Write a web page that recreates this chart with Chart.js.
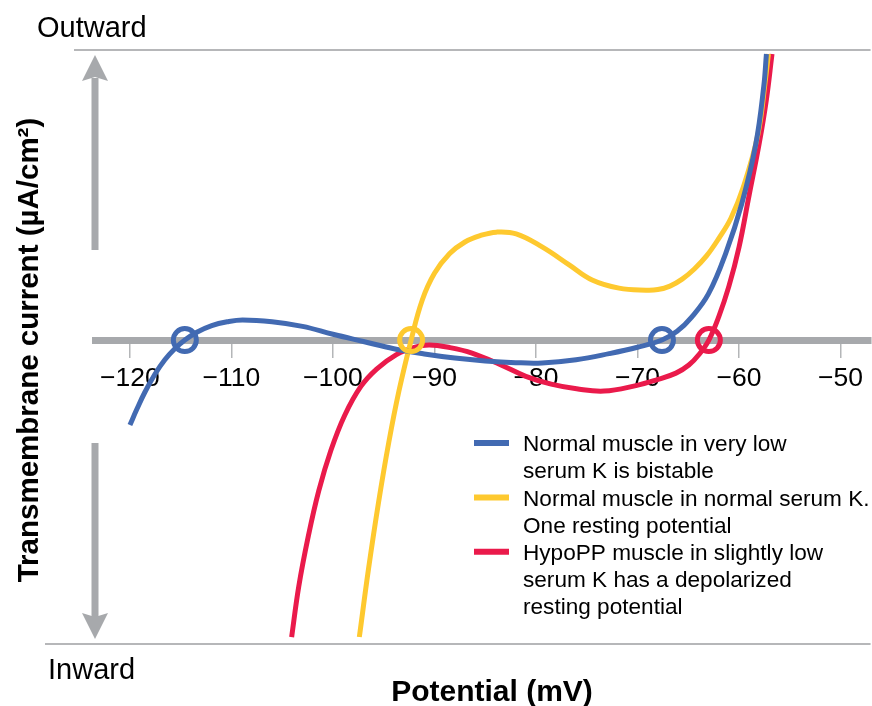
<!DOCTYPE html>
<html>
<head>
<meta charset="utf-8">
<script src="https://cdn.jsdelivr.net/npm/chart.js@4/dist/chart.umd.min.js"></script>
<style>
  html, body { margin: 0; padding: 0; background: #fff; }
  #wrap { width: 872px; height: 706px; }
</style>
</head>
<body>
<div id="wrap"><canvas id="chart" width="872" height="706"></canvas></div>
<script>
// potential (mV) on x, transmembrane current on y (arbitrary units)
const xTicks = [-120, -110, -100, -90, -80, -70, -60, -50];

const blueV = [-120, -119.31, -118.53, -117.54, -116.56, -115.58, -114.59, -113.41, -111.94, -110.4, -108.9, -106, -103, -100, -97, -94, -91, -88, -85, -82, -79.4, -76.05, -72.8, -70, -67.59, -66.1, -64.64, -63.0, -61.3, -59.73, -58.35, -57.56, -57.3];
const blueI = [-2.93, -2.38, -1.8, -1.18, -0.68, -0.3, 0, 0.27, 0.5, 0.63, 0.69, 0.63, 0.47, 0.2, -0.05, -0.3, -0.48, -0.62, -0.72, -0.78, -0.79, -0.68, -0.47, -0.25, 0, 0.3, 0.8, 1.6, 3.0, 4.7, 6.75, 8.75, 9.86];

const yellowV = [-97.4, -96.5, -95.5, -94.5, -93.5, -92.3, -91.2, -90.0, -88.5, -87.0, -85.5, -83.9, -81.95, -79.4, -76.73, -74.47, -71.82, -69.16, -68.0, -66.8, -65.6, -64.4, -63.2, -62.0, -60.8, -59.6, -58.15, -57.4, -57.1];
const yellowI = [-10.24, -7.9, -5.58, -3.53, -1.76, 0, 1.38, 2.3, 2.98, 3.38, 3.6, 3.72, 3.66, 3.21, 2.59, 2.07, 1.79, 1.72, 1.74, 1.86, 2.1, 2.45, 2.9, 3.5, 4.2, 5.25, 7.07, 8.97, 9.86];

const redV = [-104.07, -103.37, -102.45, -101.4, -100.2, -98.85, -97.25, -95.7, -93.75, -92.0, -90.5, -88.5, -86.3, -83.5, -81.0, -78.5, -76.0, -73.3, -70.15, -68.18, -66.21, -64.94, -63.9, -62.97, -62.0, -61.0, -60.0, -59.0, -58.0, -57.3, -56.75];
const redI = [-10.24, -8.5, -6.8, -5.2, -3.8, -2.6, -1.6, -1.0, -0.5, -0.25, -0.17, -0.26, -0.45, -0.85, -1.25, -1.52, -1.68, -1.76, -1.57, -1.38, -1.14, -0.86, -0.48, 0, 0.8, 1.85, 3.2, 5.0, 6.8, 8.3, 9.86];

// resting potentials (zero crossings) marked with rings
const blueRest = [-114.59, -67.59];
const yellowRest = [-92.3];
const redRest = [-62.97];

const seriesNames = [
  ['Normal muscle in very low', 'serum K is bistable'],
  ['Normal muscle in normal serum K.', 'One resting potential'],
  ['HypoPP muscle in slightly low', 'serum K has a depolarized', 'resting potential']
];
const colors = ['#426ab2', '#fec92f', '#ea1a4b'];
const gray = '#a7a9ac';

const pts = (xs, ys) => xs.map((x, i) => ({ x: x, y: ys[i] }));
const rings = (xs) => xs.map(x => ({ x: x, y: 0 }));

function lineSet(name, xs, ys, color) {
  return {
    type: 'line', label: name.join(' '), data: pts(xs, ys),
    borderColor: color, borderWidth: 5, pointRadius: 0,
    tension: 0.4, fill: false, clip: false
  };
}
function ringSet(xs, color) {
  return {
    type: 'scatter', label: '', data: rings(xs),
    borderColor: color, backgroundColor: 'rgba(0,0,0,0)',
    borderWidth: 5, pointRadius: 11.5, pointHoverRadius: 11.5
  };
}

const decor = {
  id: 'decor',
  beforeDatasetsDraw(chart) {
    const ctx = chart.ctx;
    const a = chart.chartArea;
    const x = a.left;
    ctx.save();
    ctx.strokeStyle = '#b6b7b9';
    ctx.lineWidth = 2;
    ctx.beginPath();
    ctx.moveTo(74, a.top); ctx.lineTo(a.right, a.top);
    ctx.moveTo(45, a.bottom); ctx.lineTo(a.right, a.bottom);
    ctx.stroke();
    // arrows
    ctx.fillStyle = gray;
    ctx.fillRect(x - 3.5, 78, 7, 250 - 78);
    ctx.fillRect(x - 3.5, 443, 7, 617 - 443);
    ctx.beginPath();
    ctx.moveTo(x, 55); ctx.lineTo(x + 13, 81); ctx.lineTo(x, 77); ctx.lineTo(x - 13, 81); ctx.closePath();
    ctx.fill();
    ctx.beginPath();
    ctx.moveTo(x, 639); ctx.lineTo(x + 13, 613); ctx.lineTo(x, 617); ctx.lineTo(x - 13, 613); ctx.closePath();
    ctx.fill();
    ctx.restore();
  },
  afterDraw(chart) {
    const ctx = chart.ctx;
    ctx.save();
    ctx.fillStyle = '#000';
    ctx.textBaseline = 'alphabetic';
    ctx.font = '29px "Liberation Sans", Arial, sans-serif';
    ctx.fillText('Outward', 37, 37);
    ctx.fillText('Inward', 48, 679);
    ctx.font = 'bold 30px "Liberation Sans", Arial, sans-serif';
    ctx.textAlign = 'center';
    ctx.fillText('Potential (mV)', 492, 701);
    ctx.save();
    ctx.translate(38, 350);
    ctx.rotate(-Math.PI / 2);
    ctx.font = 'bold 29.5px "Liberation Sans", Arial, sans-serif';
    ctx.fillText('Transmembrane current (\u00b5A/cm\u00b2)', 0, 0);
    ctx.restore();
    // legend
    ctx.textAlign = 'left';
    ctx.textBaseline = 'middle';
    ctx.font = '22.6px "Liberation Sans", Arial, sans-serif';
    let row = 0;
    seriesNames.forEach((lines, k) => {
      const y0 = 445 + row * 27.2;
      ctx.strokeStyle = colors[k];
      ctx.lineWidth = 6;
      ctx.beginPath();
      ctx.moveTo(474, y0 - 2); ctx.lineTo(509, y0 - 2);
      ctx.stroke();
      lines.forEach((t, j) => {
        ctx.fillText(t, 523, 445 + (row + j) * 27.2);
      });
      row += lines.length;
    });
    ctx.restore();
  }
};

new Chart(document.getElementById('chart'), {
  data: {
    datasets: [
      ringSet(blueRest, colors[0]),
      ringSet(yellowRest, colors[1]),
      ringSet(redRest, colors[2]),
      lineSet(seriesNames[0], blueV, blueI, colors[0]),
      lineSet(seriesNames[1], yellowV, yellowI, colors[1]),
      lineSet(seriesNames[2], redV, redI, colors[2])
    ]
  },
  options: {
    responsive: false,
    animation: false,
    events: [],
    layout: { padding: { left: 95, right: 0, top: 50, bottom: 62 }, autoPadding: false },
    plugins: { legend: { display: false }, tooltip: { enabled: false } },
    scales: {
      x: {
        type: 'linear', min: -123.44, max: -47.04,
        position: { y: 0 },
        afterBuildTicks: s => { s.ticks = xTicks.map(v => ({ value: v })); },
        border: { color: gray, width: 7 },
        grid: { drawOnChartArea: false, drawTicks: true, tickLength: 14, color: '#b4b6b8', lineWidth: 1.5 },
        ticks: {
          color: '#000', padding: 9, maxRotation: 0, autoSkip: false,
          font: { family: '"Liberation Sans", Arial, sans-serif', size: 26.5 },
          callback: v => (v < 0 ? '\u2212' : '') + Math.abs(v)
        }
      },
      y: { type: 'linear', min: -10.48, max: 10, display: false }
    }
  },
  plugins: [decor]
});
</script>
</body>
</html>
